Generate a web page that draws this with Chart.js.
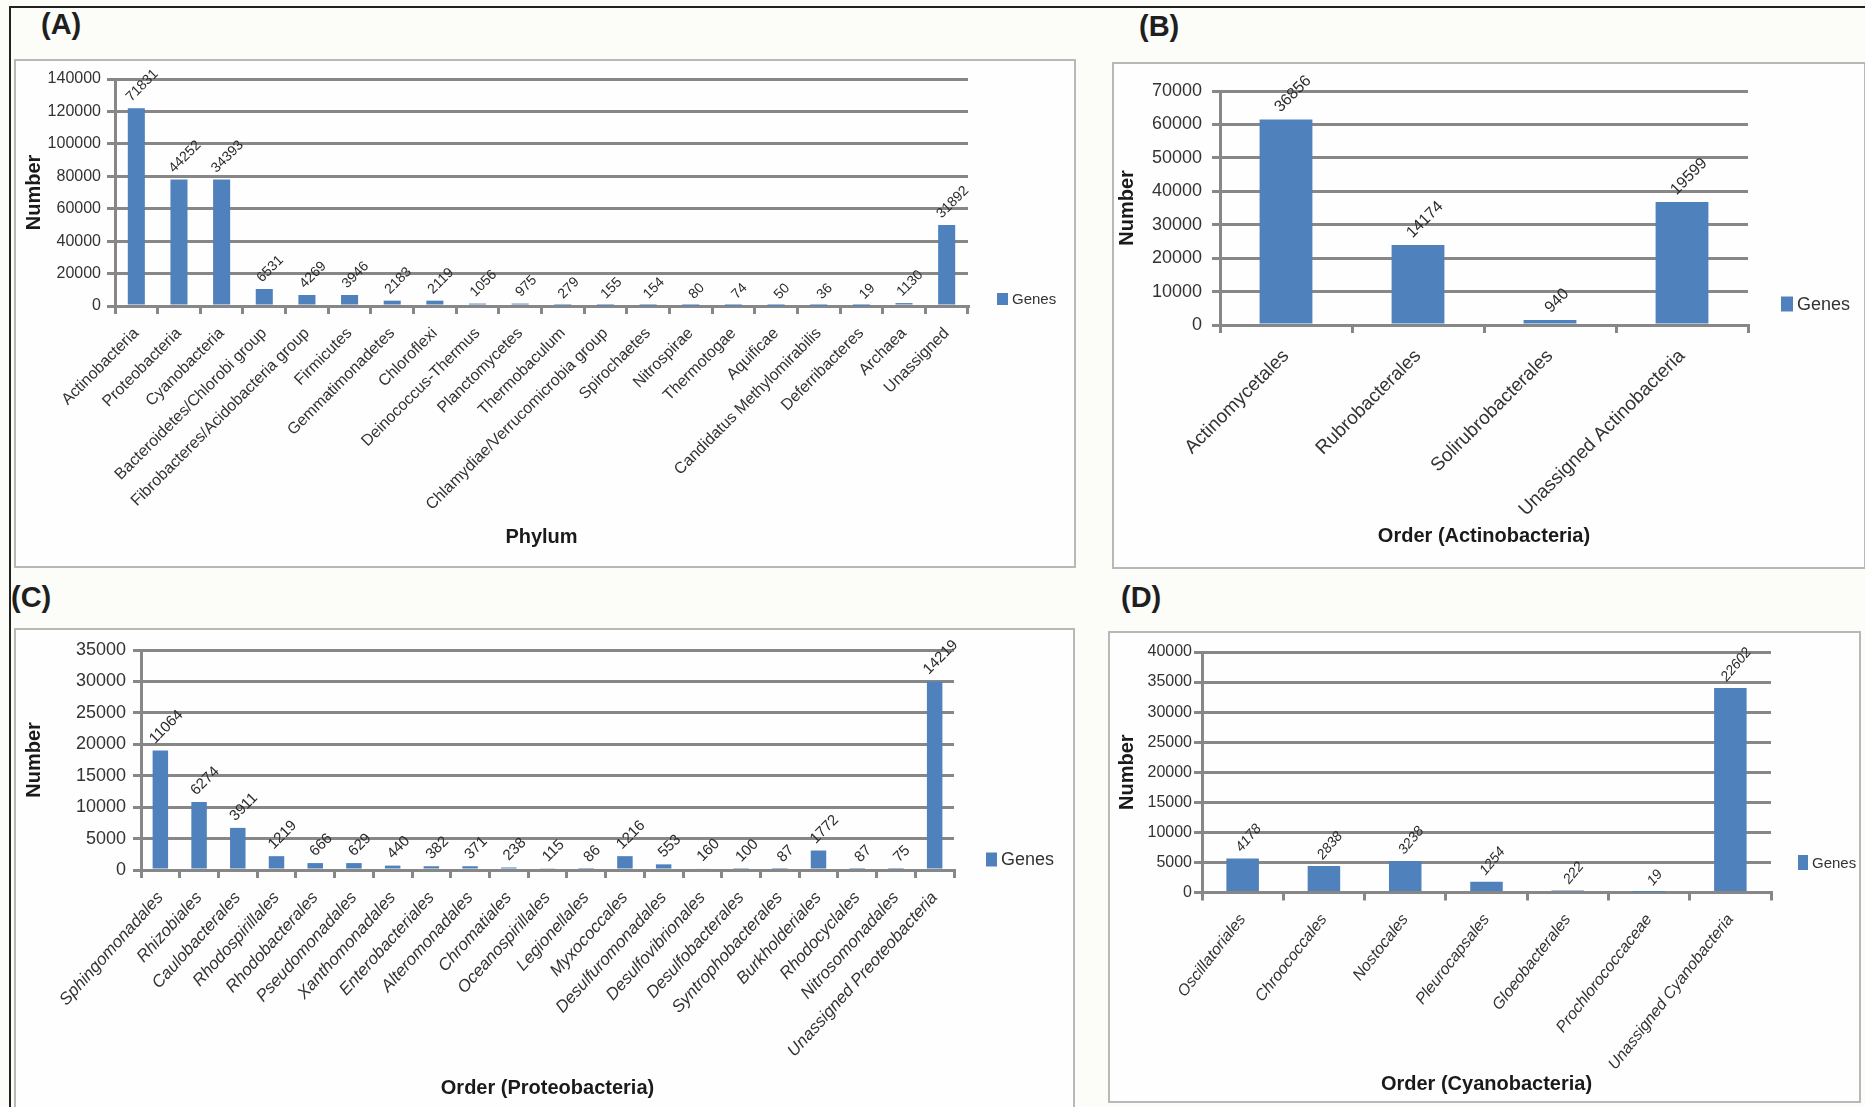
<!DOCTYPE html>
<html>
<head>
<meta charset="utf-8">
<script src="https://cdn.jsdelivr.net/npm/chart.js@4.4.0/dist/chart.umd.min.js"></script>
<style>
  body { margin: 0; width: 1865px; height: 1107px; background: #fcfcf8; position: relative; overflow: hidden;
         font-family: "Liberation Sans", Arial, sans-serif; }
  .frame { position: absolute; left: 9px; top: 6px; width: 1870px; height: 1110px;
           border-top: 2px solid #222; border-left: 2px solid #222; }
  .box { position: absolute; border: 2px solid #b8b8b8; background: #fefefe; box-sizing: border-box; }
  .tag { position: absolute; font-size: 29px; font-weight: bold; color: #1f1f1f; line-height: 1; }
  canvas { position: absolute; }
</style>
</head>
<body>
<div class="frame"></div>

<div class="box" style="left:14px;top:59px;width:1062px;height:509px"></div>
<div class="box" style="left:1112px;top:62px;width:754px;height:507px"></div>
<div class="box" style="left:14px;top:628px;width:1061px;height:482px"></div>
<div class="box" style="left:1108px;top:631px;width:753px;height:472px"></div>

<div class="tag" style="left:41px;top:10px">(A)</div>
<div class="tag" style="left:1139px;top:12px">(B)</div>
<div class="tag" style="left:11px;top:583px">(C)</div>
<div class="tag" style="left:1121px;top:583px">(D)</div>

<canvas id="chartA" width="1062" height="508" style="left:14px;top:59px"></canvas>
<canvas id="chartB" width="752" height="506" style="left:1112px;top:62px"></canvas>
<canvas id="chartC" width="1060" height="477" style="left:14px;top:628px"></canvas>
<canvas id="chartD" width="752" height="471" style="left:1108px;top:631px"></canvas>

<script>
// (A) Phylum
const phylumNames = ["Actinobacteria", "Proteobacteria", "Cyanobacteria", "Bacteroidetes/Chlorobi group",
  "Fibrobacteres/Acidobacteria group", "Firmicutes", "Gemmatimonadetes", "Chloroflexi", "Deinococcus-Thermus",
  "Planctomycetes", "Thermobaculum", "Chlamydiae/Verrucomicrobia group", "Spirochaetes", "Nitrospirae",
  "Thermotogae", "Aquificae", "Candidatus Methylomirabilis", "Deferribacteres", "Archaea", "Unassigned"];
const phylumNumber = [122000, 78000, 78000, 10500, 6800, 6800, 3300, 3300, 1500, 1500,
  400, 250, 250, 130, 120, 80, 60, 30, 1800, 50000];
const phylumGenes = ["71831", "44252", "34393", "6531", "4269", "3946", "2183", "2119", "1056", "975",
  "279", "155", "154", "80", "74", "50", "36", "19", "1130", "31892"];

// (B) Order (Actinobacteria)
const actinoNames = ["Actinomycetales", "Rubrobacterales", "Solirubrobacterales", "Unassigned Actinobacteria"];
const actinoNumber = [61500, 23900, 1500, 36800];
const actinoGenes = ["36856", "14174", "940", "19599"];

// (C) Order (Proteobacteria)
const proteoNames = ["Sphingomonadales", "Rhizobiales", "Caulobacterales", "Rhodospirillales", "Rhodobacterales",
  "Pseudomonadales", "Xanthomonadales", "Enterobacteriales", "Alteromonadales", "Chromatiales",
  "Oceanospirillales", "Legionellales", "Myxococcales", "Desulfuromonadales", "Desulfovibrionales",
  "Desulfobacterales", "Syntrophobacterales", "Burkholderiales", "Rhodocyclales", "Nitrosomonadales",
  "Unassigned Preoteobacteria"];
const proteoNumber = [19000, 10800, 6700, 2200, 1100, 1100, 700, 600, 600, 400,
  200, 150, 2200, 900, 250, 170, 150, 3100, 150, 130, 30000];
const proteoGenes = ["11064", "6274", "3911", "1219", "666", "629", "440", "382", "371", "238",
  "115", "86", "1216", "553", "160", "100", "87", "1772", "87", "75", "14219"];

// (D) Order (Cyanobacteria)
const cyanoNames = ["Oscillatoriales", "Chroococcales", "Nostocales", "Pleurocapsales", "Gloeobacterales",
  "Prochlorococcaceae", "Unassigned Cyanobacteria"];
const cyanoNumber = [5650, 4400, 5250, 1800, 350, 30, 34000];
const cyanoGenes = ["4178", "2838", "3238", "1254", "222", "19", "22602"];

const BAR = "#4f81bd";
const GRID = "#878787";
const FONT = '"Liberation Sans", Arial, sans-serif';
Chart.defaults.font.family = FONT;

// rotated value labels above each bar
const barLabels = {
  id: "barLabels",
  afterDatasetsDraw(chart, args, opts) {
    const ctx = chart.ctx;
    const meta = chart.getDatasetMeta(0);
    const texts = opts.texts;
    const a = opts.angle * Math.PI / 180;
    ctx.save();
    ctx.font = opts.font;
    ctx.fillStyle = "#2b2b2b";
    ctx.textAlign = "center";
    ctx.textBaseline = "middle";
    meta.data.forEach((bar, i) => {
      const w = ctx.measureText(texts[i]).width;
      const h = opts.size;
      const bh = w * Math.sin(a) + h * Math.cos(a);
      ctx.save();
      ctx.translate(bar.x + opts.dx, bar.y - opts.gap - bh / 2);
      ctx.rotate(-a);
      ctx.fillText(texts[i], 0, 0);
      ctx.restore();
    });
    ctx.restore();
  }
};

// single "Genes" legend entry, centred vertically in the panel
const genesLegend = {
  id: "genesLegend",
  afterDraw(chart, args, opts) {
    const ctx = chart.ctx;
    const x = chart.chartArea.right + opts.dx;
    const y = chart.height / 2 + opts.dy;
    ctx.save();
    ctx.fillStyle = BAR;
    ctx.fillRect(x, y - opts.bh / 2, opts.bw, opts.bh);
    ctx.font = opts.font;
    ctx.fillStyle = "#333";
    ctx.textAlign = "left";
    ctx.textBaseline = "middle";
    ctx.fillText("Genes", x + opts.bw + 4, y + 1);
    ctx.restore();
  }
};

function makeChart(id, names, values, genes, c) {
  const ctx = document.getElementById(id).getContext("2d");
  return new Chart(ctx, {
    type: "bar",
    data: {
      labels: names,
      datasets: [{
        label: "Genes",
        data: values,
        backgroundColor: BAR,
        borderWidth: 0,
        barPercentage: 0.4,
        categoryPercentage: 1
      }]
    },
    options: {
      responsive: false,
      animation: false,
      layout: { padding: { top: c.top, right: c.right, left: 0, bottom: 0 } },
      plugins: {
        legend: { display: false },
        tooltip: { enabled: false },
        barLabels: { texts: genes, angle: c.labAngle, size: c.labSize,
          font: (c.labItalic ? "italic " : "") + c.labSize + "px " + FONT, dx: c.labDx, gap: c.labGap },
        genesLegend: { dx: c.legDx, dy: c.legDy, bw: c.legBw, bh: c.legBh, font: c.legSize + "px " + FONT }
      },
      scales: {
        x: {
          grid: { drawOnChartArea: false, drawTicks: true, tickLength: 8, color: GRID, lineWidth: 3, offset: true },
          border: { color: GRID, width: 3 },
          ticks: { autoSkip: false, minRotation: c.rot, maxRotation: c.rot, color: "#333", padding: c.catPad,
            font: { size: c.catSize, style: c.catItalic ? "italic" : "normal" } },
          title: { display: true, text: c.xTitle, color: "#1a1a1a",
            font: { size: 20, weight: "bold" }, padding: { top: 0, bottom: c.xTitlePad } },
          afterFit: s => { s.height = c.xHeight; }
        },
        y: {
          min: 0,
          max: c.max,
          grid: { color: GRID, lineWidth: 3, tickLength: 8 },
          border: { color: GRID, width: 3 },
          ticks: { stepSize: c.step, color: "#333", padding: c.tickPad, font: { size: c.tickSize },
            callback: v => String(v) },
          title: { display: true, text: "Number", color: "#1a1a1a",
            font: { size: 20, weight: "bold" }, padding: { top: c.yTitlePad, bottom: 0 } },
          afterFit: s => { s.width = c.yWidth; }
        }
      }
    },
    plugins: [barLabels, genesLegend]
  });
}

makeChart("chartA", phylumNames, phylumNumber, phylumGenes, {
  top: 20, right: 108, yWidth: 101, xHeight: 261, max: 140000, step: 20000,
  tickSize: 16, tickPad: 6, yTitlePad: 8, catSize: 16, catPad: 10, rot: 45, xTitle: "Phylum", xTitlePad: 18,
  labSize: 14, labAngle: 45, labDx: 6, labGap: 4, labItalic: false,
  legDx: 29, legDy: -14, legBw: 11, legBh: 12, legSize: 15
});

makeChart("chartB", actinoNames, actinoNumber, actinoGenes, {
  top: 29, right: 116, yWidth: 108, xHeight: 243, max: 70000, step: 10000,
  tickSize: 18, tickPad: 10, yTitlePad: 3, catSize: 19, catPad: 12, rot: 45, xTitle: "Order (Actinobacteria)", xTitlePad: 20,
  labSize: 16, labAngle: 45, labDx: 7, labGap: 4, labItalic: false,
  legDx: 33, legDy: -11, legBw: 12, legBh: 15, legSize: 18
});

makeChart("chartC", proteoNames, proteoNumber, proteoGenes, {
  top: 22, right: 120, yWidth: 127, xHeight: 235, max: 35000, step: 5000,
  tickSize: 18, tickPad: 7, yTitlePad: 8, catSize: 17, catItalic: true, catPad: 10, rot: 48, xTitle: "Order (Proteobacteria)", xTitlePad: 5,
  labSize: 15, labAngle: 45, labDx: 6, labGap: 4, labItalic: false,
  legDx: 32, legDy: -7, legBw: 11, legBh: 14, legSize: 18
});

makeChart("chartD", cyanoNames, cyanoNumber, cyanoGenes, {
  top: 21, right: 89, yWidth: 94, xHeight: 209.5, max: 40000, step: 5000,
  tickSize: 16, tickPad: 2, yTitlePad: 7, catSize: 16, catItalic: true, catPad: 10, rot: 52, xTitle: "Order (Cyanobacteria)", xTitlePad: 6,
  labSize: 14, labAngle: 50, labDx: 6, labGap: 4, labItalic: true,
  legDx: 27, legDy: -4, legBw: 10, legBh: 15, legSize: 15
});
</script>
</body>
</html>
